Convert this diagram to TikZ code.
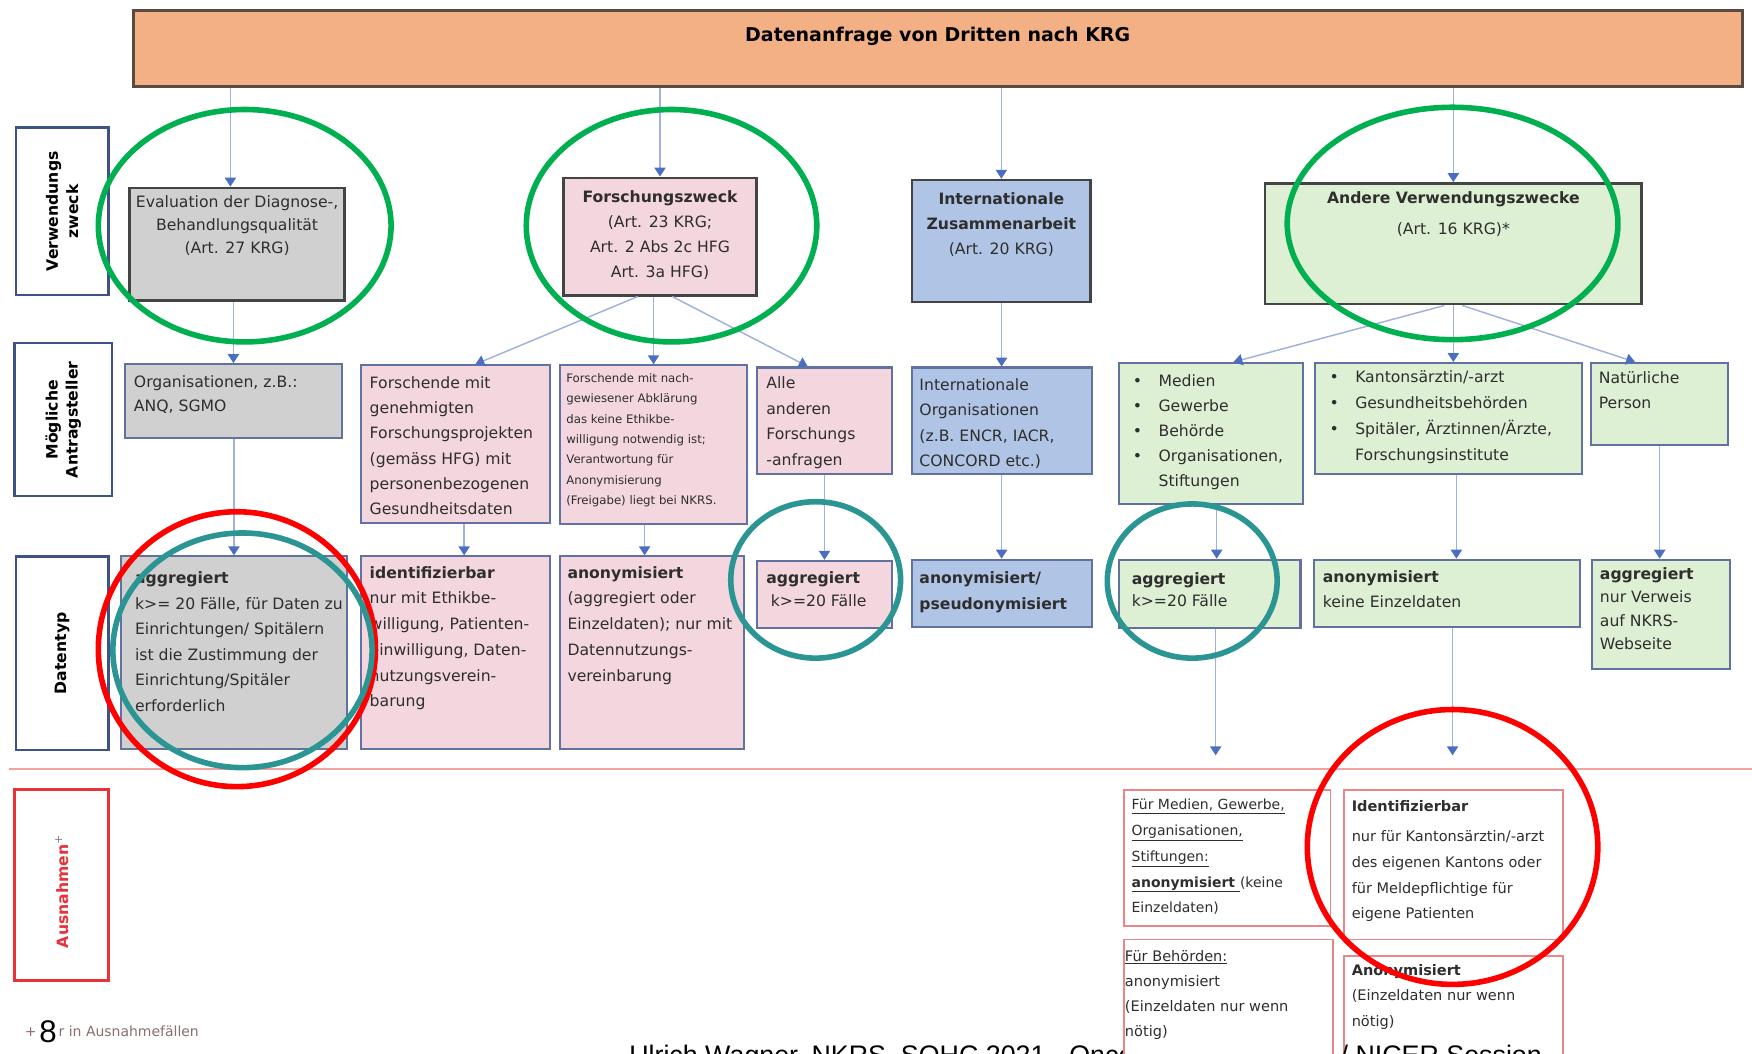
\documentclass[tikz,border=0pt]{standalone}
\usepackage{fontspec}
\setmainfont{DejaVu Sans}
\newfontfamily\footfont{Liberation Sans}
\usetikzlibrary{arrows.meta}
\definecolor{orangefill}{HTML}{F3B084}
\definecolor{topborder}{HTML}{5A4A42}
\definecolor{darkborder}{HTML}{444444}
\definecolor{boxborder}{HTML}{6272A0}
\definecolor{lblborder}{HTML}{3F5383}
\definecolor{grayfill}{HTML}{D0D0D0}
\definecolor{pinkfill}{HTML}{F4D6DE}
\definecolor{bluefill}{HTML}{B0C4E6}
\definecolor{greenfill}{HTML}{DEF0D4}
\definecolor{connline}{HTML}{9FB1DD}
\definecolor{arrowblue}{HTML}{4C6EC2}
\definecolor{sepred}{HTML}{F2A0A0}
\definecolor{exred}{HTML}{E8868A}
\definecolor{ausred}{HTML}{E8323A}
\definecolor{ringgreen}{HTML}{00B050}
\definecolor{ringred}{HTML}{FF0000}
\definecolor{ringteal}{HTML}{2A9592}
\definecolor{bodytext}{HTML}{2E2E2E}
\definecolor{footc}{HTML}{8A6D6D}
\newcommand{\fsz}[2]{\fontsize{#1}{#2}\selectfont}
\newcommand{\lft}[1]{\raggedright\leftskip=#1pt\relax}
\newcommand{\bul}{\makebox[23pt][l]{\textbullet}}
\newcommand{\bx}[8]{\node[#2,anchor=north west,inner sep=0pt,minimum width=#5pt,minimum height=#6pt] (#1) at (#3,#4) {\parbox[c][#6pt][t]{#5pt}{\vspace*{#7pt}#8}};}
\begin{document}
\begin{tikzpicture}[x=1pt,y=-1pt,
  every node/.style={inner sep=0pt,text=bodytext},
  topbox/.style={draw=topborder,line width=2.4pt,fill=orangefill},
  lvlA/.style={draw=darkborder,line width=2.4pt},
  lvlB/.style={draw=boxborder,line width=1.8pt},
  lblbox/.style={draw=lblborder,line width=2.2pt,fill=white},
  lbltext/.style={rotate=90,align=center,font=\fsz{14}{18}\bfseries,text=black},
  exbox/.style={draw=exred,line width=1.6pt},
  conn/.style={draw=connline,line width=1.3pt,-{Triangle[width=10pt,length=8pt,color=arrowblue]}},
  sepline/.style={draw=sepred,line width=1.5pt},
  greenring/.style={draw=ringgreen,line width=5pt},
  redring/.style={draw=ringred,line width=5pt},
  tealring/.style={draw=ringteal,line width=5pt}]
\useasboundingbox (0,0) rectangle (1568,943);

% title
\bx{top}{topbox}{118}{8}{1440}{68}{14.7}{\centering\fsz{17}{20}\bfseries\color{black}Datenanfrage von Dritten nach KRG}

% row labels
\node[lblbox,anchor=north west,minimum width=83pt,minimum height=150pt] (L1) at (13,113) {};
\node[lbltext] (L1t) at (L1.center) {Verwendungs\\zweck};
\node[lblbox,anchor=north west,minimum width=87pt,minimum height=137pt] (L2) at (12,306) {};
\node[lbltext] (L2t) at (L2.center) {Mögliche\\Antragsteller};
\node[lblbox,anchor=north west,minimum width=83pt,minimum height=173pt] (L3) at (13,497) {};
\node[lbltext] (L3t) at (L3.center) {Datentyp};
\node[lblbox,draw=ausred,line width=2.6pt,anchor=north west,minimum width=84pt,minimum height=171pt] (L4) at (12,705) {};
\node[lbltext,text=ausred] (L4t) at ([yshift=-6pt]L4.center) {Ausnahmen\textsuperscript{\textcolor{gray}{\mdseries +}}};

% row 1
\bx{eval}{lvlA,fill=grayfill}{115}{167}{192}{101}{7}{\centering\fsz{14}{20.5}Evaluation der Diagnose-,\\Behandlungsqualität\\(Art. 27 KRG)}
\bx{forsch}{lvlA,fill=pinkfill}{503}{158}{173}{105}{11}{\centering\fsz{14}{22.6}{\bfseries Forschungszweck}\\(Art. 23 KRG;\\Art. 2 Abs 2c HFG\\Art. 3a HFG)}
\bx{intl}{lvlA,fill=bluefill}{815}{160}{160}{109}{11}{\centering\fsz{14}{22.5}{\bfseries Internationale\\Zusammenarbeit}\\(Art. 20 KRG)}
\bx{andere}{lvlA,fill=greenfill}{1131}{163}{337}{108}{7}{\centering\fsz{14}{28}{\bfseries Andere Verwendungszwecke}\\(Art. 16 KRG)*}

% row 2
\bx{org}{lvlB,fill=grayfill}{111}{325}{194}{66}{10}{\lft{8}\fsz{14}{22}Organisationen, z.B.:\\ANQ, SGMO}
\bx{fa}{lvlB,fill=pinkfill}{322}{326}{169}{141}{10}{\lft{8}\fsz{14}{22.6}Forschende mit\\genehmigten\\Forschungsprojekten\\(gemäss HFG) mit\\personenbezogenen\\Gesundheitsdaten}
\bx{fb}{lvlB,fill=pinkfill}{500}{326}{168}{142}{7.5}{\lft{6}\fsz{10.5}{18.2}Forschende mit nach-\\gewiesener Abklärung\\das keine Ethikbe-\\willigung notwendig ist;\\Verantwortung für\\Anonymisierung\\(Freigabe) liegt bei NKRS.}
\bx{alle}{lvlB,fill=pinkfill}{677}{328}{120}{95}{8}{\lft{8}\fsz{14}{23}Alle\\anderen\\Forschungs\\-anfragen}
\bx{intorg}{lvlB,fill=bluefill}{815}{328}{161}{95}{10}{\lft{7}\fsz{14}{22.7}Internationale\\Organisationen\\(z.B. ENCR, IACR,\\CONCORD etc.)}
\bx{medien}{lvlB,fill=greenfill}{1001}{324}{164}{126}{10}{\lft{12}\fsz{14}{22.5}\bul Medien\\\bul Gewerbe\\\bul Behörde\\\bul Organisationen,\\\hspace*{23pt}Stiftungen}
\bx{kanton}{lvlB,fill=greenfill}{1176}{324}{239}{99}{7}{\lft{13}\fsz{14}{23.3}\bul Kantonsärztin/-arzt\\\bul Gesundheitsbehörden\\\bul Spitäler, Ärztinnen/Ärzte,\\\hspace*{23pt}Forschungsinstitute}
\bx{natur}{lvlB,fill=greenfill}{1423}{324}{123}{73}{8}{\lft{7}\fsz{14}{22}Natürliche\\Person}

% row 3
\bx{aggA}{lvlB,fill=grayfill}{107}{497}{203}{172}{14}{\lft{13}\fsz{14}{22.8}{\bfseries aggregiert}\\k>= 20 Fälle, für Daten zu\\Einrichtungen/ Spitälern\\ist die Zustimmung der\\Einrichtung/Spitäler\\erforderlich}
\bx{ident}{lvlB,fill=pinkfill}{322}{497}{169}{172}{9}{\lft{8}\fsz{14}{23}{\bfseries identifizierbar}\\nur mit Ethikbe-\\willigung, Patienten-\\einwilligung, Daten-\\nutzungsverein-\\barung}
\bx{anon}{lvlB,fill=pinkfill}{500}{497}{165}{172}{9}{\lft{7}\fsz{14}{23}{\bfseries anonymisiert}\\(aggregiert oder\\Einzeldaten); nur mit\\Datennutzungs-\\vereinbarung}
\bx{aggP}{lvlB,fill=pinkfill}{677}{501}{120}{60}{10}{\lft{8}\fsz{14}{20}{\bfseries aggregiert}\\\hspace*{4pt}k>=20 Fälle}
\bx{pseudo}{lvlB,fill=bluefill}{815}{500}{161}{60}{11}{\lft{7}\fsz{14}{23}\bfseries anonymisiert/\\pseudonymisiert}
\bx{aggG}{lvlB,fill=greenfill}{1001}{500}{162}{61}{12}{\lft{11}\fsz{14}{19}{\bfseries aggregiert}\\k>=20 Fälle}
\bx{anonG}{lvlB,fill=greenfill}{1175}{500}{238}{60}{10}{\lft{8}\fsz{14}{22}{\bfseries anonymisiert}\\keine Einzeldaten}
\bx{aggN}{lvlB,fill=greenfill}{1424}{500}{123}{98}{7}{\lft{7}\fsz{14}{21}{\bfseries aggregiert}\\nur Verweis\\auf NKRS-\\Webseite}

% separator
\coordinate (s1) at (8,688);
\coordinate (s2) at (1568,688);
\draw[sepline] (s1) -- (s2);

% exceptions
\bx{exA}{exbox}{1005}{706}{185}{122}{8.6}{\lft{7}\fsz{12.5}{23}\underline{Für Medien, Gewerbe,}\\\underline{Organisationen,}\\\underline{Stiftungen:}\\\underline{\bfseries anonymisiert }(keine\\Einzeldaten)}
\bx{exB}{exbox}{1202}{706}{196}{134}{9.6}{\lft{7}\fsz{13}{23}{\bfseries Identifizierbar}\\[4pt]nur für Kantonsärztin/-arzt\\des eigenen Kantons oder\\für Meldepflichtige für\\eigene Patienten}
\bx{exD}{exbox}{1202}{855}{196}{105}{7.6}{\lft{7}\fsz{13}{22.5}{\bfseries Anonymisiert}\\(Einzeldaten nur wenn\\nötig)}

% footer
\node[anchor=base west,font=\footfont\fsz{24}{28},text=black] (footer) at (563,953) {Ulrich Wagner, NKRS, SOHC 2021 - Oncology Registration / NICER Session};
\bx{exC}{exbox,fill=white}{1005}{840}{187}{120}{9.6}{\lft{1}\fsz{13}{22.5}\underline{Für Behörden:}\\anonymisiert\\(Einzeldaten nur wenn\\nötig)}
\node[anchor=base west,text=footc,font=\fsz{12.5}{15}] (fn) at (22,928) {+ nur in Ausnahmefällen};
\node[anchor=base west,fill=white,inner sep=1pt,text=black,font=\footfont\fsz{28}{30}] (pnum) at (34,933) {8};

% connectors top -> row 1
\coordinate (eT) at ([xshift=-6pt]eval.north);
\draw[conn] (eT |- top.south) -- (eT);
\draw[conn] (forsch.north |- top.south) -- (forsch.north);
\draw[conn] (intl.north |- top.south) -- (intl.north);
\draw[conn] (andere.north |- top.south) -- (andere.north);

% row 1 -> row 2
\draw[conn] (org.north |- eval.south) -- (org.north);
\coordinate (fs1) at ([xshift=-20pt]forsch.south);
\coordinate (fa1) at ([xshift=18pt]fa.north);
\draw[conn] (fs1) -- (fa1);
\draw[conn] (fb.north |- forsch.south) -- (fb.north);
\coordinate (fs3) at ([xshift=11pt]forsch.south);
\coordinate (al1) at ([xshift=-15pt]alle.north);
\draw[conn] (fs3) -- (al1);
\draw[conn] (intorg.north |- intl.south) -- (intorg.north);
\coordinate (an1) at ([xshift=-8pt]andere.south);
\coordinate (me1) at ([xshift=20pt]medien.north);
\draw[conn] (an1) -- (me1);
\draw[conn] (andere.south) -- (andere.south |- kanton.north);
\coordinate (an3) at ([xshift=8pt]andere.south);
\coordinate (na1) at ([xshift=-22pt]natur.north);
\draw[conn] (an3) -- (na1);

% row 2 -> row 3
\draw[conn] (aggA.north |- org.south) -- (aggA.north);
\coordinate (faB) at ([xshift=8pt]fa.south);
\draw[conn] (faB) -- (faB |- ident.north);
\coordinate (fbB) at ([xshift=-8pt]fb.south);
\draw[conn] (fbB) -- (fbB |- anon.north);
\draw[conn] (alle.south) -- (alle.south |- aggP.north);
\draw[conn] (intorg.south) -- (intorg.south |- pseudo.north);
\coordinate (meB) at ([xshift=5pt]medien.south);
\draw[conn] (meB) -- (meB |- aggG.north);
\coordinate (kaB) at ([xshift=7pt]kanton.south);
\draw[conn] (kaB) -- (kaB |- anonG.north);
\draw[conn] (natur.south) -- (natur.south |- aggN.north);

% row 3 -> exceptions
\coordinate (d1) at (1088,676);
\draw[conn] (d1 |- aggG.south) -- (d1);
\coordinate (d2) at (1300,676);
\draw[conn] (d2 |- anonG.south) -- (d2);

% annotation rings
\draw[greenring] (219,202) ellipse [x radius=131pt, y radius=104pt];
\draw[greenring] (601,202) ellipse [x radius=130pt, y radius=104pt];
\draw[greenring] (1300,200) ellipse [x radius=148pt, y radius=104pt];
\draw[redring] (212,581) ellipse [x radius=124pt, y radius=123pt];
\draw[redring] (1300,758) ellipse [x radius=130pt, y radius=123pt];
\draw[tealring] (217,582) ellipse [x radius=116pt, y radius=105pt];
\draw[tealring] (730,519) ellipse [x radius=76pt, y radius=70pt];
\draw[tealring] (1067,520) ellipse [x radius=76pt, y radius=69pt];
\end{tikzpicture}
\end{document}
